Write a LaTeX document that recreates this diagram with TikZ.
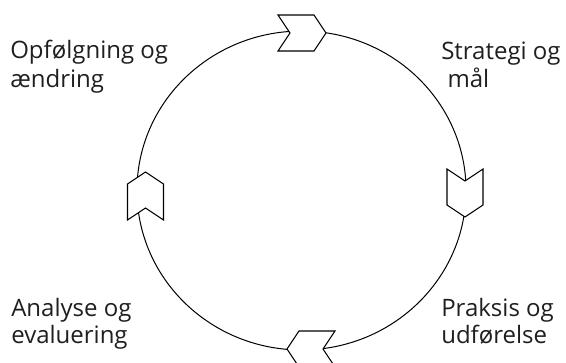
\documentclass[tikz,border=0pt]{standalone}
\usepackage{fontspec}
\setmainfont{Open Sans}
\begin{document}
\begin{tikzpicture}[x=0.75pt,y=-0.75pt,
  lbl/.style={anchor=base west,inner sep=0pt,text=black!88,
    font=\fontsize{18pt}{21.75pt}\selectfont},
  chev/.style={draw=black,fill=white,line width=0.8pt,line join=miter},
  ring/.style={draw=black,line width=0.75pt}]
\useasboundingbox (0,0) rectangle (566,362);
\path[ring] (301.5,190.5) ellipse [x radius=123.4pt, y radius=119.6pt];
% chevrons
\path[chev] (278,15) -- (314,15) -- (326,33) -- (314,51) -- (278,51) -- (290,33) -- cycle;
\path[chev] (447,169) -- (465,181) -- (483,169) -- (483,205) -- (465,217) -- (447,205) -- cycle;
\path[chev] (287,349) -- (299,331) -- (335,331) -- (323,349) -- (335,367) -- (299,367) -- cycle;
\path[chev] (127.5,184) -- (145.5,172) -- (163.5,184) -- (163.5,220) -- (145.5,208) -- (127.5,220) -- cycle;
% labels
\node[lbl] (opfa) at (10,58) {Opfølgning og};
\node[lbl] (opfb) at (10,87) {ændring};
\node[lbl] (stra) at (441,59) {Strategi og};
\node[lbl] (strb) at (441,87) {\ mål};
\node[lbl] (anaa) at (11,316) {Analyse og};
\node[lbl] (anab) at (11,343) {evaluering};
\node[lbl] (praa) at (441,316) {Praksis og};
\node[lbl] (prab) at (441,343) {udførelse};
\end{tikzpicture}
\end{document}
